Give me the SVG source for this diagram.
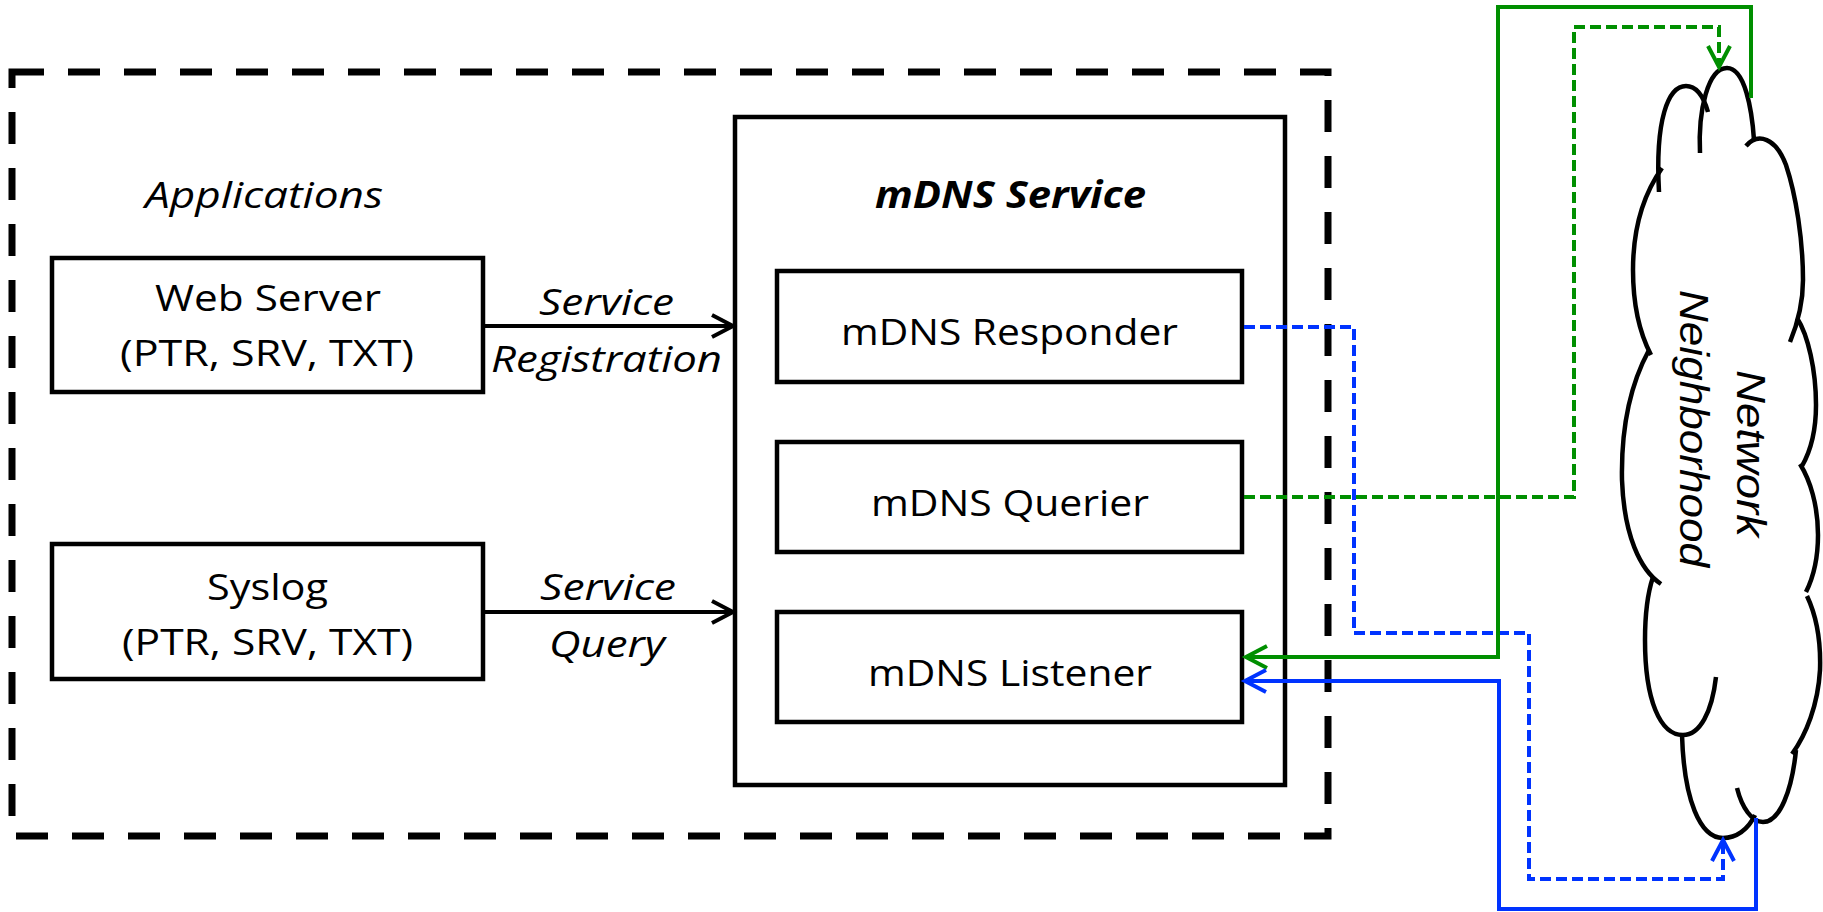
<svg xmlns="http://www.w3.org/2000/svg" width="1823" height="912" viewBox="0 0 1823 912">
  <style>
    .box { fill: #ffffff; stroke: #000000; stroke-width: 4.5; stroke-linejoin: miter; }
    .host { fill: none; stroke: #000000; stroke-width: 7; stroke-dasharray: 32 24; }
    .t { font-family: "Open Sans", "Liberation Sans", sans-serif; font-size: 37px; fill: #000000; }
    .it { font-style: italic; }
    .bi { font-style: italic; font-weight: bold; }
    .cloud-t { font-family: "Liberation Sans", Arial, sans-serif; font-size: 41px; font-style: italic; fill: #000000; }
    .cloud { fill: none; stroke: #000000; stroke-width: 4.5; stroke-linecap: butt; }
    .k { fill: none; stroke: #000000; stroke-width: 4; }
    .g { fill: none; stroke: #008f00; stroke-width: 4; }
    .b { fill: none; stroke: #0033ff; stroke-width: 4; }
    .dash { stroke-dasharray: 11 5; }
  </style>
  <defs>
    <marker id="arr-k" markerUnits="userSpaceOnUse" markerWidth="30" markerHeight="30" refX="22" refY="11" orient="auto" overflow="visible">
      <path d="M1 0 L22 11 L1 22" fill="none" stroke="#000000" stroke-width="4"/>
    </marker>
    <marker id="arr-g" markerUnits="userSpaceOnUse" markerWidth="30" markerHeight="30" refX="22" refY="11" orient="auto" overflow="visible">
      <path d="M1 0 L22 11 L1 22" fill="none" stroke="#008f00" stroke-width="4"/>
    </marker>
    <marker id="arr-b" markerUnits="userSpaceOnUse" markerWidth="30" markerHeight="30" refX="22" refY="11" orient="auto" overflow="visible">
      <path d="M1 0 L22 11 L1 22" fill="none" stroke="#0033ff" stroke-width="4"/>
    </marker>
  </defs>

  <rect width="1823" height="912" fill="#ffffff"/>

  <!-- device boundary -->
  <g id="device">
    <rect class="host" x="12" y="72" width="1316" height="764"/>
    <text class="t it" x="145" y="208" font-size="38" textLength="238" lengthAdjust="spacingAndGlyphs">Applications</text>
  </g>

  <g id="web-server">
    <rect class="box" x="52" y="258" width="431" height="134"/>
    <text class="t" x="155" y="311" font-size="35" textLength="226" lengthAdjust="spacingAndGlyphs">Web Server</text>
    <text class="t" x="120" y="366" font-size="35" textLength="294" lengthAdjust="spacingAndGlyphs">(PTR, SRV, TXT)</text>
  </g>

  <g id="syslog">
    <rect class="box" x="52" y="544" width="431" height="135"/>
    <text class="t" x="207" y="600" font-size="36" textLength="121" lengthAdjust="spacingAndGlyphs">Syslog</text>
    <text class="t" x="122" y="655" font-size="36" textLength="291" lengthAdjust="spacingAndGlyphs">(PTR, SRV, TXT)</text>
  </g>

  <g id="mdns-service">
    <rect class="box" x="735" y="117" width="550" height="668"/>
    <text class="t bi" x="875" y="208" textLength="271" lengthAdjust="spacingAndGlyphs">mDNS Service</text>
  </g>

  <g id="mdns-responder">
    <rect class="box" x="777" y="271" width="465" height="111"/>
    <text class="t" x="841" y="345" textLength="337" lengthAdjust="spacingAndGlyphs">mDNS Responder</text>
  </g>

  <g id="mdns-querier">
    <rect class="box" x="777" y="442" width="465" height="110"/>
    <text class="t" x="871" y="516" textLength="278" lengthAdjust="spacingAndGlyphs">mDNS Querier</text>
  </g>

  <g id="mdns-listener">
    <rect class="box" x="777" y="612" width="465" height="110"/>
    <text class="t" x="868" y="686" textLength="284" lengthAdjust="spacingAndGlyphs">mDNS Listener</text>
  </g>

  <!-- cloud drawn as overlapping lobes, rotated upright -->
  <g id="network-neighborhood">
    <path class="cloud" d="M1659 192 C1655 120 1668 86 1686 86 C1698 86 1704 98 1708 112"/>
    <path class="cloud" d="M1700 153 C1698 110 1708 68 1727 68 C1745 68 1752 110 1754 140"/>
    <path class="cloud" d="M1746 146 C1758 132 1776 138 1786 165 C1796 195 1803 240 1803 280 C1803 305 1797 325 1790 342"/>
    <path class="cloud" d="M1797 318 C1808 335 1816 370 1816 405 C1816 430 1810 452 1802 466"/>
    <path class="cloud" d="M1800 464 C1810 480 1818 505 1818 535 C1818 560 1813 578 1806 592"/>
    <path class="cloud" d="M1807 596 C1816 615 1821 640 1820 670 C1818 705 1806 735 1792 754"/>
    <path class="cloud" d="M1796 750 C1792 790 1780 822 1763 822 C1752 822 1742 808 1737 788"/>
    <path class="cloud" d="M1755 815 C1748 830 1736 838 1723 838 C1700 838 1684 800 1682 735"/>
    <path class="cloud" d="M1716 677 C1712 712 1700 735 1683 735 C1660 735 1645 700 1645 640 C1645 612 1648 592 1653 577"/>
    <path class="cloud" d="M1661 584 C1640 570 1624 535 1622 480 C1621 430 1630 385 1649 350"/>
    <path class="cloud" d="M1651 355 C1638 330 1633 300 1633 270 C1633 230 1643 195 1662 168"/>
    <text class="cloud-t" transform="translate(1737 370) rotate(90)" textLength="167" lengthAdjust="spacingAndGlyphs">Network</text>
    <text class="cloud-t" transform="translate(1680 290) rotate(90)" textLength="277" lengthAdjust="spacingAndGlyphs">Neighborhood</text>
  </g>

  <g id="connectors">
    <text class="t it" x="539" y="315" font-size="38" textLength="135" lengthAdjust="spacingAndGlyphs">Service</text>
    <text class="t it" x="491" y="372" font-size="38" textLength="231" lengthAdjust="spacingAndGlyphs">Registration</text>
    <line class="k" x1="483" y1="326" x2="733" y2="326" marker-end="url(#arr-k)"/>

    <text class="t it" x="540" y="600" font-size="38" textLength="136" lengthAdjust="spacingAndGlyphs">Service</text>
    <text class="t it" x="549" y="657" font-size="38" textLength="116" lengthAdjust="spacingAndGlyphs">Query</text>
    <line class="k" x1="483" y1="612" x2="733" y2="612" marker-end="url(#arr-k)"/>

    <!-- responder announcements -->
    <path class="b dash" d="M1244 327 H1354 V633 H1529 V879 H1723 V840" marker-end="url(#arr-b)"/>
    <!-- querier requests -->
    <path class="g dash" d="M1244 497 H1574 V27 H1719 V67" marker-end="url(#arr-g)"/>
    <!-- answers received by the listener -->
    <path class="g" d="M1751 98 V7 H1498 V657 H1246" marker-end="url(#arr-g)"/>
    <path class="b" d="M1756 818 V909 H1499 V681 H1245" marker-end="url(#arr-b)"/>
  </g>
</svg>
